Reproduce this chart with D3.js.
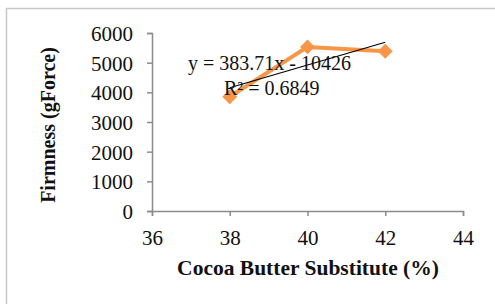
<!DOCTYPE html>
<html><head><meta charset="utf-8">
<script src="https://cdn.jsdelivr.net/npm/d3@7"></script>
<style>body{margin:0;background:#fff}svg{display:block}</style>
</head><body>
<script>
const xValues = [38, 40, 42];
const firmness = [3850, 5532, 5385];
const xTicks = [36, 38, 40, 42, 44];
const yTicks = [0, 1000, 2000, 3000, 4000, 5000, 6000];
const trendSlope = 383.71, trendIntercept = -10426;
const equationText = "y = 383.71x - 10426";
const r2Text = "R² = 0.6849";
const xTitle = "Cocoa Butter Substitute (%)";
const yTitle = "Firmness (gForce)";

const W = 495, H = 304;
const svg = d3.select("body").append("svg").attr("width", W).attr("height", H);
svg.append("rect").attr("x", 6.5).attr("y", 8.5).attr("width", 600).attr("height", 400)
  .attr("fill", "#fff").attr("stroke", "#c8c8c8").attr("stroke-width", 1.5);

const x = d3.scaleLinear().domain([36, 44]).range([152, 463]);
const y = d3.scaleLinear().domain([0, 6000]).range([211, 33]);
const font = "Liberation Serif, Times New Roman, serif";

const xa = svg.append("g").attr("transform", "translate(0,211)")
  .call(d3.axisBottom(x).tickValues(xTicks).tickFormat(d3.format("d")).tickSize(5).tickPadding(14));
const ya = svg.append("g").attr("transform", "translate(152,0)")
  .call(d3.axisLeft(y).tickValues(yTicks).tickFormat(d3.format("d")).tickSize(5).tickPadding(14));
[xa, ya].forEach(g => {
  g.select(".domain").attr("stroke", "#8c8c8c").attr("stroke-width", 1.5);
  g.selectAll(".tick line").attr("stroke", "#8c8c8c").attr("stroke-width", 1.5);
  g.selectAll("text").attr("font-family", font).attr("font-size", 21).attr("fill", "#111");
});
ya.selectAll("text").attr("dy", "0.35em");

const line = d3.line().x((d, i) => x(xValues[i])).y(d => y(d));
svg.append("path").datum(firmness).attr("d", line).attr("fill", "none")
  .attr("stroke", "#F79646").attr("stroke-width", 4).attr("stroke-linejoin", "round");
svg.selectAll(".pt").data(firmness).enter().append("path")
  .attr("transform", (d, i) => `translate(${x(xValues[i])},${y(d)})`)
  .attr("d", d3.symbol().type(d3.symbolDiamond2).size(140))
  .attr("fill", "#F79646");

const tx = [xValues[0], xValues[xValues.length - 1]];
svg.append("line")
  .attr("x1", x(tx[0])).attr("y1", y(trendSlope * tx[0] + trendIntercept))
  .attr("x2", x(tx[1])).attr("y2", y(trendSlope * tx[1] + trendIntercept))
  .attr("stroke", "#000").attr("stroke-width", 1.2);

svg.append("text").attr("x", 188).attr("y", 70).attr("font-family", font).attr("font-size", 20)
  .attr("fill", "#111").text(equationText);
svg.append("text").attr("x", 224).attr("y", 95).attr("font-family", font).attr("font-size", 20)
  .attr("fill", "#111").text(r2Text);

svg.append("text").attr("x", 308).attr("y", 275).attr("text-anchor", "middle")
  .attr("font-family", font).attr("font-size", 21.5).attr("font-weight", "bold").attr("fill", "#111")
  .text(xTitle);
svg.append("text").attr("transform", "translate(55,125) rotate(-90)").attr("text-anchor", "middle")
  .attr("font-family", font).attr("font-size", 20).attr("font-weight", "bold").attr("fill", "#111")
  .text(yTitle);
</script>
</body></html>
